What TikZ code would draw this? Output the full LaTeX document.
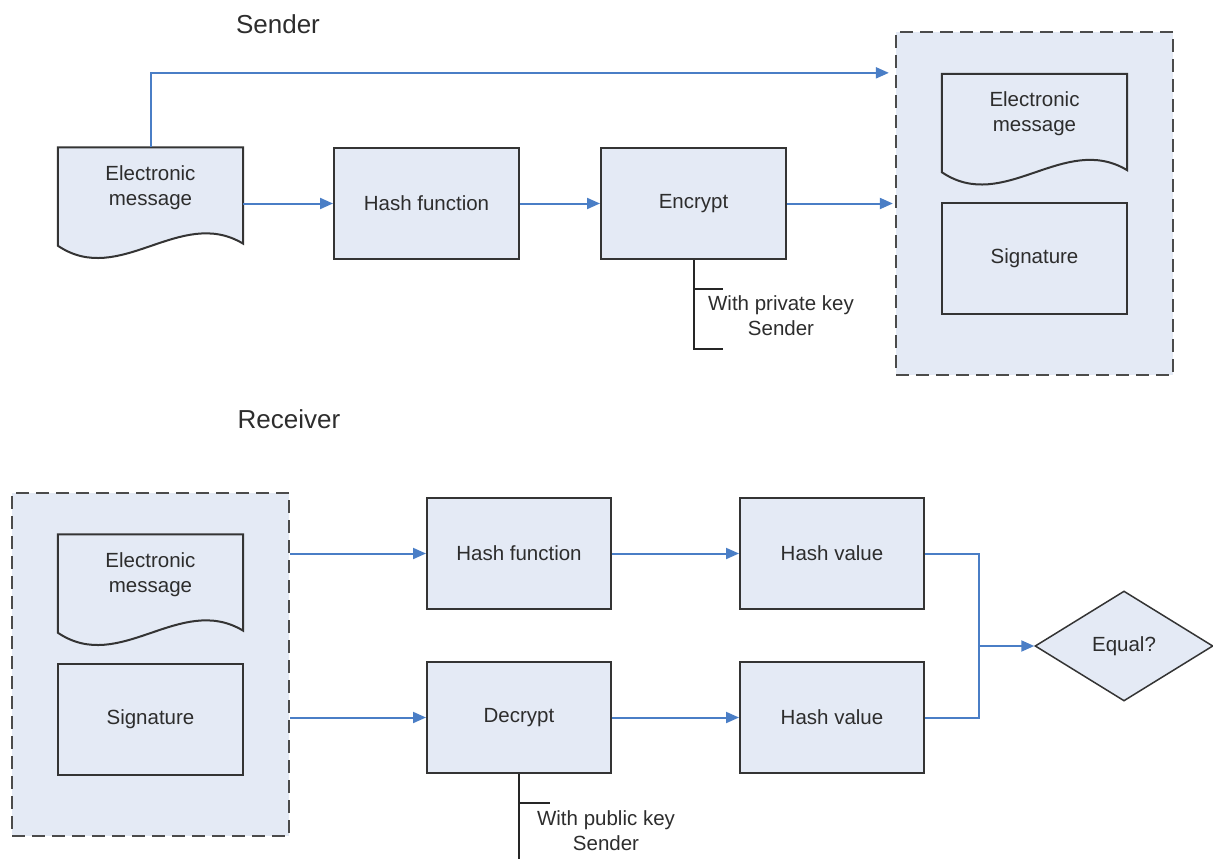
\documentclass[tikz,border=0pt]{standalone}
\usepackage{fontspec}
\setmainfont{Liberation Sans}
\usetikzlibrary{arrows.meta,calc,shapes.geometric}
\definecolor{boxfill}{RGB}{228,234,245}
\definecolor{boxline}{RGB}{52,52,52}
\definecolor{flow}{RGB}{74,126,198}
\definecolor{pkgline}{RGB}{75,75,75}
\definecolor{txt}{RGB}{45,45,45}
\tikzset{
  lbl/.style={font=\fontsize{20.5}{25}\selectfont, text=txt, align=center, inner sep=0},
  title/.style={font=\fontsize{26}{30}\selectfont, text=txt, inner sep=0},
  procbox/.style={draw=boxline, fill=boxfill, line width=2pt, minimum width=185pt, minimum height=111pt, inner sep=0,
                  font=\fontsize{20.5}{25}\selectfont, text=txt, align=center},
  docframe/.style={minimum width=185pt, minimum height=111pt, inner sep=0},
  docline/.style={draw=boxline, fill=boxfill, line width=2pt},
  pkgbox/.style={draw=pkgline, fill=boxfill, line width=2.3pt, dash pattern=on 13pt off 7pt,
                 minimum width=277pt, minimum height=343pt, inner sep=0},
  decision/.style={shape=diamond, draw=boxline, fill=boxfill, line width=1.5pt, minimum width=178pt,
                   minimum height=110pt, inner sep=0, font=\fontsize{20.5}{25}\selectfont, text=txt},
  flowline/.style={draw=flow, line width=2pt},
  flowarr/.style={flowline, -{Triangle[length=13pt,width=11pt]}},
  noteline/.style={draw=black!85, line width=2pt},
}
% document outline drawn around an (invisible) frame node
\newcommand\docoutline[1]{%
  \path[docline] (#1.north west) -- (#1.north east) -- ($(#1.south east)+(0,-15)$)
    .. controls ($(#1.south east)+(-63,-53)$) and ($(#1.south west)+(62,29)$) ..
    ($(#1.south west)+(0,-13)$) -- cycle;}
\begin{document}
\begin{tikzpicture}[x=1pt,y=-1pt]
\useasboundingbox (0,0) rectangle (1213,859);

% ---------------- Sender ----------------
\node[title] (sendertitle) at (278,24) {Sender};

\node[docframe] (msg1) at (150.5,203) {};
\docoutline{msg1}
\node[lbl] (msg1txt) at ($(msg1)+(0,-15.5)$) {Electronic\\message};

\node[procbox] (hash1) at (426.5,203.5) {Hash function};
\node[procbox] (enc) at (693.5,203.5) {Encrypt};

\node[pkgbox] (pkg) at (1034.5,203.5) {};
\node[docframe] (msg3) at (1034.5,129.5) {};
\docoutline{msg3}
\node[lbl] (msg3txt) at ($(msg3)+(0,-15.5)$) {Electronic\\message};
\node[procbox] (sig3) at (1034.5,258.5) {Signature};

\draw[flowarr, shorten >=6pt] (msg1.north) |- ($(pkg.north west)+(0,42)$);
\draw[flowarr] (msg1.east |- hash1.west) -- (hash1.west);
\draw[flowarr] (hash1.east) -- (enc.west);
\draw[flowarr, shorten >=2pt] (enc.east) -- (enc.east -| pkg.west);

% key annotation
\draw[noteline] (enc.south) -- ++(0,89) -- ++(29,0);
\draw[noteline] ($(enc.south)+(0,29)$) -- ++(29,0);
\node[lbl] (privkey) at (781,315.5) {With private key\\Sender};

% ---------------- Receiver ----------------
\node[title] (receivertitle) at (289,419) {Receiver};

\node[pkgbox] (pkg2) at (150.5,664.5) {};
\node[docframe] (msg2) at (150.5,590) {};
\docoutline{msg2}
\node[lbl] (msg2txt) at ($(msg2)+(0,-15.5)$) {Electronic\\message};
\node[procbox] (sig2) at (150.5,719) {Signature};

\node[procbox, minimum width=184pt] (hash2) at (519,553.5) {Hash function};
\node[procbox, minimum width=184pt] (dec) at (519,717.5) {Decrypt};
\node[procbox, minimum width=184pt] (hv1) at (832,553.5) {Hash value};
\node[procbox, minimum width=184pt] (hv2) at (832,717.5) {Hash value};

\node[decision] (eq) at (1124,646) {Equal?};
\coordinate (join) at (979,646);

\draw[flowarr] (pkg2.east |- hash2.west) -- (hash2.west);
\draw[flowarr] (pkg2.east |- dec.west) -- (dec.west);
\draw[flowarr] (hash2.east) -- (hv1.west);
\draw[flowarr] (dec.east) -- (hv2.west);
\draw[flowline] (hv1.east) -| (join);
\draw[flowline] (hv2.east) -| (join);
\draw[flowarr] (join) -- (eq.west);

% key annotation
\coordinate (decend) at (519,859);
\draw[noteline] (dec.south) -- (decend);
\draw[noteline] ($(dec.south)+(0,29)$) -- ++(31,0);
\node[lbl] (pubkey) at (606,830.5) {With public key\\Sender};
\end{tikzpicture}
\end{document}
